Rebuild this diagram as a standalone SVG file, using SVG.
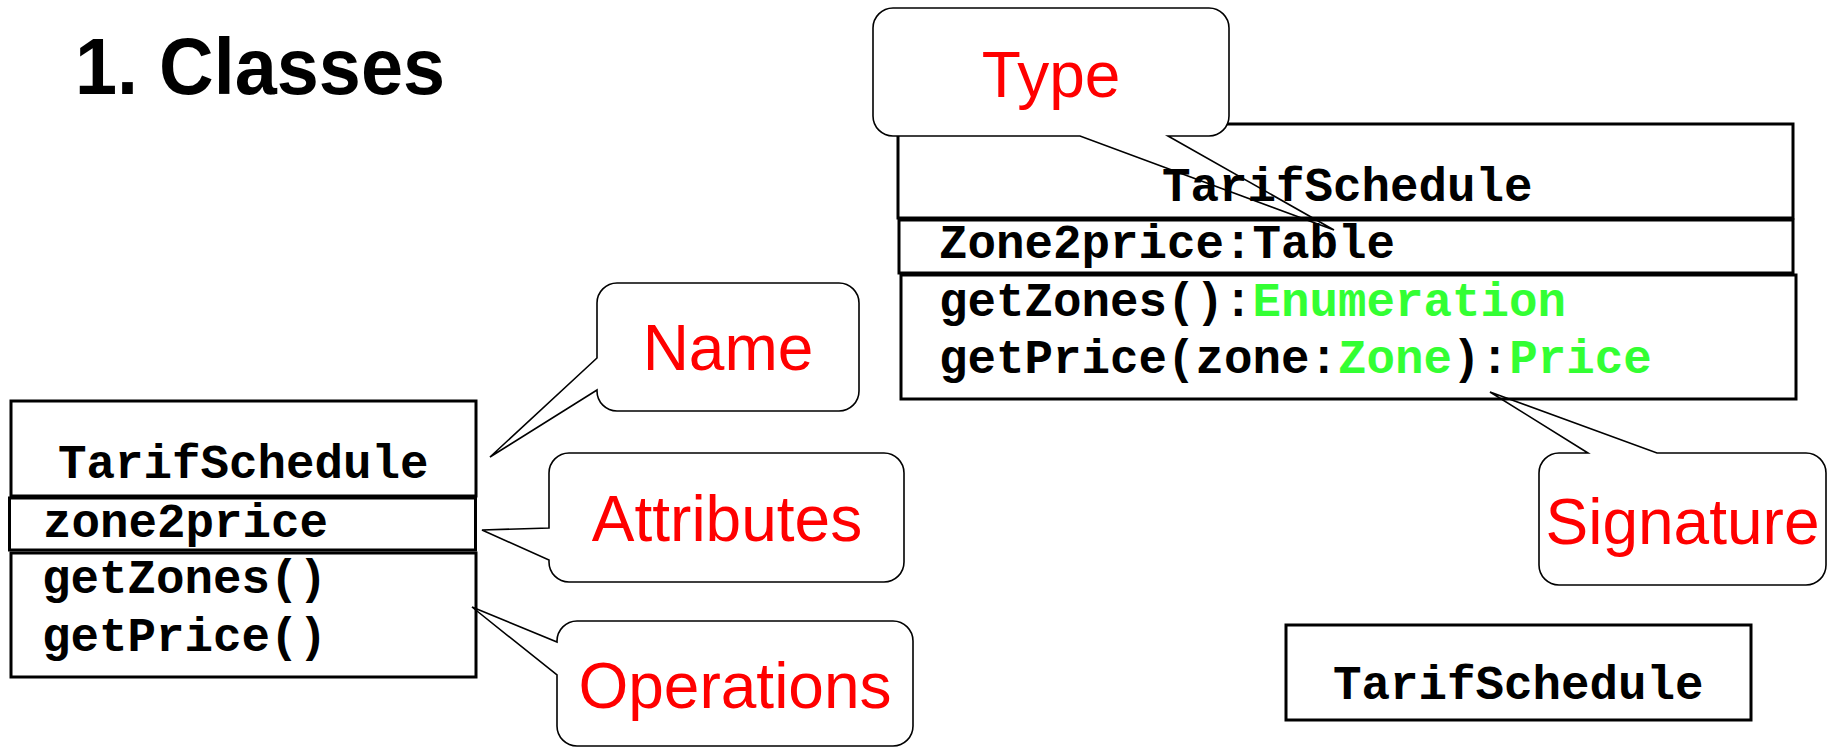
<svg xmlns="http://www.w3.org/2000/svg" width="1833" height="749" viewBox="0 0 1833 749">
  <style>
    .box { fill: #ffffff; stroke: #000000; stroke-width: 3; }
    .code { font-family: "Liberation Mono", "Courier New", monospace; font-weight: bold; font-size: 47.5px; fill: #000000; }
    .typ { fill: #33ff33; }
    .label { font-family: "Liberation Sans", Arial, sans-serif; font-size: 64px; fill: #ff0000; text-anchor: middle; }
    .bubble-fill { fill: #ffffff; stroke: none; }
    .bubble-line { fill: none; stroke: #000000; stroke-width: 1.6; stroke-linejoin: miter; }
    .title { font-family: "Liberation Sans", Arial, sans-serif; font-weight: bold; font-size: 80px; fill: #000000; }
  </style>

  <rect x="0" y="0" width="1833" height="749" fill="#ffffff"/>

  <text class="title" x="75" y="94" textLength="370" lengthAdjust="spacingAndGlyphs">1. Classes</text>

  <!-- Full class: name / attribute / operation compartments -->
  <g id="class-full">
    <rect class="box" x="11" y="401" width="465" height="95"/>
    <rect class="box" x="9.5" y="498" width="466" height="52"/>
    <rect class="box" x="11" y="553" width="465" height="124"/>
    <text class="code" x="58" y="478">TarifSchedule</text>
    <text class="code" x="43" y="537">zone2price</text>
    <text class="code" x="42" y="593">getZones()</text>
    <text class="code" x="42" y="651">getPrice()</text>
  </g>

  <!-- Class with typed attributes and operation signatures -->
  <g id="class-typed">
    <rect class="box" x="898" y="124" width="895" height="94"/>
    <rect class="box" x="899" y="220" width="894" height="53"/>
    <rect class="box" x="901" y="275" width="895" height="124"/>
    <text class="code" x="1162" y="201">TarifSchedule</text>
    <text class="code" x="939" y="258">Zone2price:Table</text>
    <text class="code" x="939" y="316">getZones():<tspan class="typ">Enumeration</tspan></text>
    <text class="code" x="939" y="373">getPrice(zone:<tspan class="typ">Zone</tspan>):<tspan class="typ">Price</tspan></text>
  </g>

  <!-- Collapsed class: name only -->
  <g id="class-compact">
    <rect class="box" x="1286" y="625" width="465" height="95"/>
    <text class="code" x="1333" y="699">TarifSchedule</text>
  </g>

  <!-- Callout bubbles with pointer tails -->
  <g id="connectors">
    <g id="callout-name">
      <rect class="bubble-fill" x="597" y="283" width="262" height="128" rx="20"/>
      <path class="bubble-line" d="M617,283 H839 A20,20 0 0 1 859,303 V391 A20,20 0 0 1 839,411 H617 A20,20 0 0 1 597,391 V390 L490,457 L597,358 V303 A20,20 0 0 1 617,283 Z"/>
      <text class="label" x="728" y="370">Name</text>
    </g>
    <g id="callout-attributes">
      <rect class="bubble-fill" x="549" y="453" width="355" height="129" rx="20"/>
      <path class="bubble-line" d="M569,453 H884 A20,20 0 0 1 904,473 V562 A20,20 0 0 1 884,582 H569 A20,20 0 0 1 549,562 V560 L482,530 L549,528 V473 A20,20 0 0 1 569,453 Z"/>
      <text class="label" x="727" y="541">Attributes</text>
    </g>
    <g id="callout-operations">
      <rect class="bubble-fill" x="557" y="621" width="356" height="125" rx="20"/>
      <path class="bubble-line" d="M577,621 H893 A20,20 0 0 1 913,641 V726 A20,20 0 0 1 893,746 H577 A20,20 0 0 1 557,726 V675 L472,607 L557,642 V641 A20,20 0 0 1 577,621 Z"/>
      <text class="label" x="735" y="708">Operations</text>
    </g>
    <g id="callout-type">
      <rect class="bubble-fill" x="873" y="8" width="356" height="128" rx="20"/>
      <path class="bubble-line" d="M893,8 H1209 A20,20 0 0 1 1229,28 V116 A20,20 0 0 1 1209,136 H1168 L1334,230 L1080,136 H893 A20,20 0 0 1 873,116 V28 A20,20 0 0 1 893,8 Z"/>
      <text class="label" x="1051" y="97">Type</text>
    </g>
    <g id="callout-signature">
      <rect class="bubble-fill" x="1539" y="453" width="287" height="132" rx="20"/>
      <path class="bubble-line" d="M1559,453 H1588 L1490,392 L1657,453 H1806 A20,20 0 0 1 1826,473 V565 A20,20 0 0 1 1806,585 H1559 A20,20 0 0 1 1539,565 V473 A20,20 0 0 1 1559,453 Z"/>
      <text class="label" x="1682.5" y="544">Signature</text>
    </g>
  </g>
</svg>
